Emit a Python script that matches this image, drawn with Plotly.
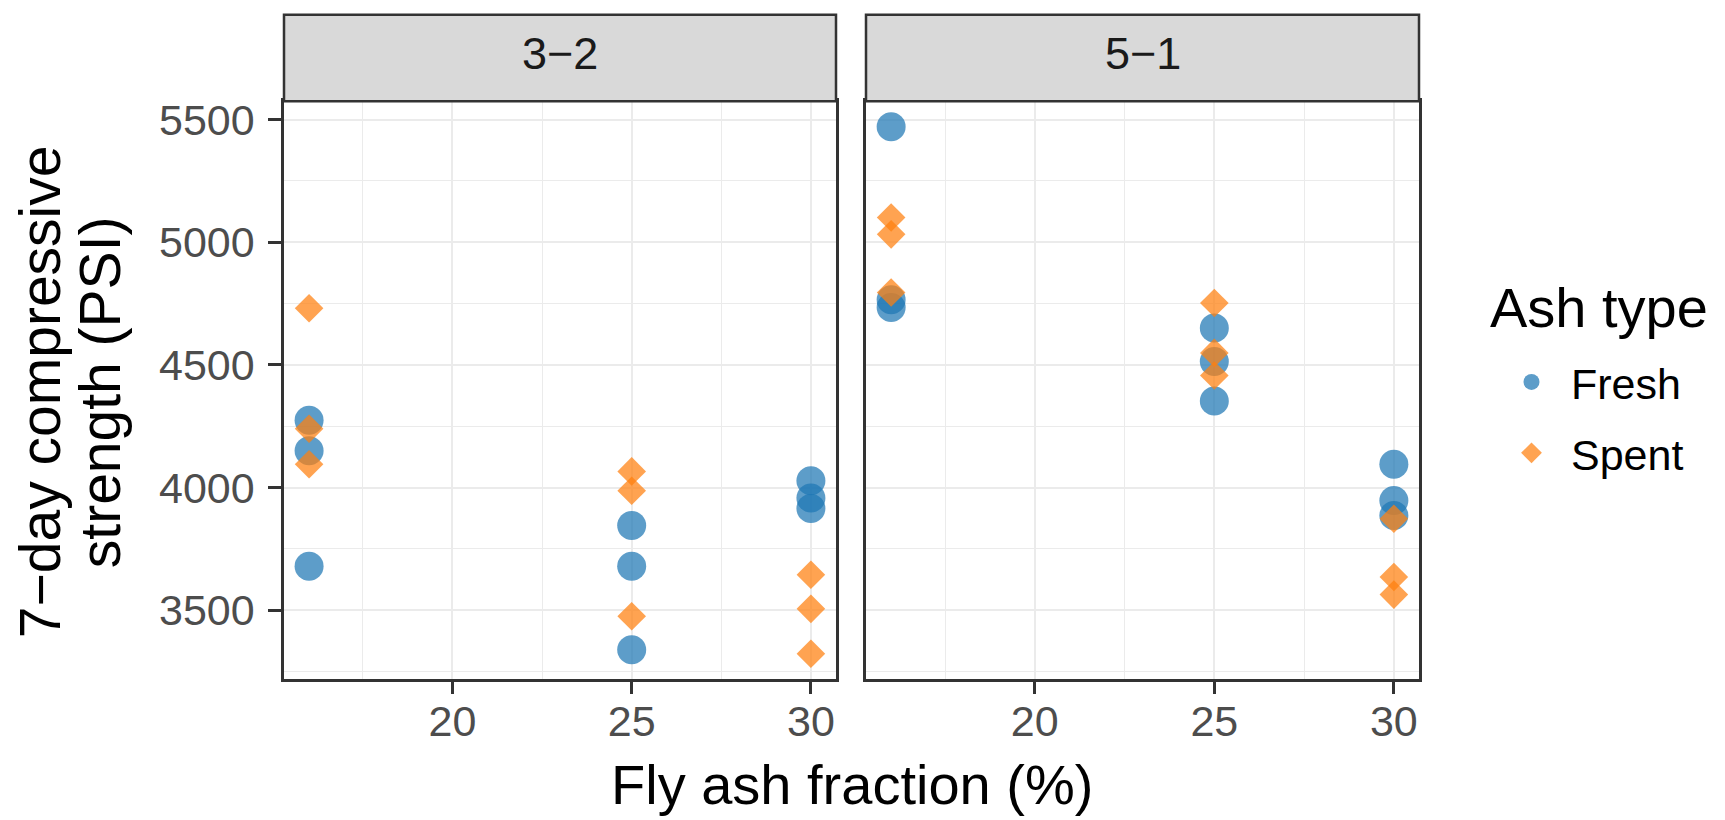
import plotly.graph_objects as go

# ---- data ----
facets = ["3−2", "5−1"]
ash_types = ["Fresh", "Spent"]
fly_ash = [16, 16, 16, 25, 25, 25, 30, 30, 30]
strength_32_fresh = [4275, 4150, 3680, 3846, 3680, 3339, 4028, 3958, 3915]
strength_32_spent = [4731, 4240, 4095, 4066, 3987, 3476, 3645, 3506, 3323]
strength_51_fresh = [5471, 4766, 4734, 4650, 4514, 4353, 4095, 3947, 3886]
strength_51_spent = [5101, 5032, 4795, 4752, 4549, 4457, 3873, 3636, 3564]
y_ticks = [3500, 4000, 4500, 5000, 5500]
x_ticks = [20, 25, 30]

# page has an 8px body margin; figure sized to fit the 1725x820 window
OFF_X = 8
OFF_Y = 10
W, H = 1725 - OFF_X, 820 - OFF_Y
FONT = "Liberation Sans, Arial, Helvetica, sans-serif"
colors = {"Fresh": "#1F77B4", "Spent": "#FF7F0E"}
symbols = {"Fresh": "circle", "Spent": "diamond"}
sizes = {"Fresh": 29, "Spent": 22}

series = {
    ("3−2", "Fresh"): strength_32_fresh,
    ("3−2", "Spent"): strength_32_spent,
    ("5−1", "Fresh"): strength_51_fresh,
    ("5−1", "Spent"): strength_51_spent,
}

fig = go.Figure()
for i, fac in enumerate(facets):
    xa = "x" if i == 0 else "x2"
    ya = "y" if i == 0 else "y2"
    for at in ash_types:
        fig.add_trace(go.Scatter(
            x=fly_ash, y=series[(fac, at)], mode="markers",
            xaxis=xa, yaxis=ya, name=at, legendgroup=at,
            showlegend=(i == 0),
            marker=dict(color=colors[at], symbol=symbols[at], size=sizes[at],
                        opacity=0.72, line=dict(width=0)),
        ))


def px_x(p):
    return (p - OFF_X) / W


def px_y(p):
    return (H - (p - OFF_Y)) / H


d1 = [px_x(284), px_x(836)]
d2 = [px_x(866), px_x(1419)]
dy = [px_y(679.5), px_y(98)]

xr = [15.3, 30.7]
yr = [3222, 5574]

common_x = dict(range=xr, tickvals=x_ticks, showgrid=True, gridcolor="#EBEBEB",
                gridwidth=2.2, zeroline=False, showline=True, mirror=True,
                linecolor="#333333", linewidth=2.5, ticks="outside", ticklen=13,
                tickwidth=2.5, tickcolor="#333333", ticklabelstandoff=-10,
                tickfont=dict(family=FONT, size=43, color="#4D4D4D"),
                minor=dict(tickvals=[17.5, 22.5, 27.5], showgrid=True,
                           gridcolor="#EBEBEB", gridwidth=1.1, ticks=""))
common_y = dict(range=yr, tickvals=y_ticks, showgrid=True, gridcolor="#EBEBEB",
                gridwidth=2.2, zeroline=False, showline=True, mirror=True,
                linecolor="#333333", linewidth=2.5,
                minor=dict(tickvals=[3250, 3750, 4250, 4750, 5250], showgrid=True,
                           gridcolor="#EBEBEB", gridwidth=1.1, ticks=""))

fig.update_layout(
    width=W, height=H, margin=dict(l=0, r=0, t=0, b=0),
    paper_bgcolor="white", plot_bgcolor="white",
    xaxis=dict(domain=d1, anchor="y", **common_x),
    xaxis2=dict(domain=d2, anchor="y2", **common_x),
    yaxis=dict(domain=dy, anchor="x", ticks="outside", ticklen=13, tickwidth=2.5,
               tickcolor="#333333", ticklabelstandoff=5,
               tickfont=dict(family=FONT, size=43, color="#4D4D4D"), **common_y),
    yaxis2=dict(domain=dy, anchor="x2", showticklabels=False, ticks="", **common_y),
    legend=dict(x=px_x(1492), xanchor="left", y=px_y(346), yanchor="top",
                font=dict(family=FONT, size=43, color="black"),
                tracegroupgap=12, itemsizing="trace", itemwidth=69,
                bgcolor="rgba(0,0,0,0)"),
    font=dict(family=FONT),
)

# legend title
fig.add_annotation(xref="paper", yref="paper", x=px_x(1488), y=px_y(306),
                   text="Ash type", showarrow=False, xanchor="left", yanchor="middle",
                   font=dict(family=FONT, size=56, color="black"))

# facet strips
strip_top = px_y(10.7)
for dom, fac in zip([d1, d2], facets):
    fig.add_shape(type="rect", xref="paper", yref="paper",
                  x0=dom[0], x1=dom[1], y0=dy[1], y1=strip_top,
                  fillcolor="#D9D9D9", line=dict(color="#333333", width=2.5), layer="above")
    fig.add_annotation(xref="paper", yref="paper", x=(dom[0] + dom[1]) / 2,
                       y=px_y(50), text=fac, showarrow=False,
                       xanchor="center", yanchor="middle",
                       font=dict(family=FONT, size=45, color="#1A1A1A"))

# axis titles
fig.add_annotation(xref="paper", yref="paper", x=px_x(852), y=px_y(786),
                   text="Fly ash fraction (%)", showarrow=False,
                   xanchor="center", yanchor="middle",
                   font=dict(family=FONT, size=56, color="black"))
for txt, xc in [("7−day compressive", 40), ("strength (PSI)", 100)]:
    fig.add_annotation(xref="paper", yref="paper", x=px_x(xc), y=px_y(391),
                       text=txt, showarrow=False, textangle=-90,
                       xanchor="center", yanchor="middle",
                       font=dict(family=FONT, size=57, color="black"))

fig.write_html("out.html")
